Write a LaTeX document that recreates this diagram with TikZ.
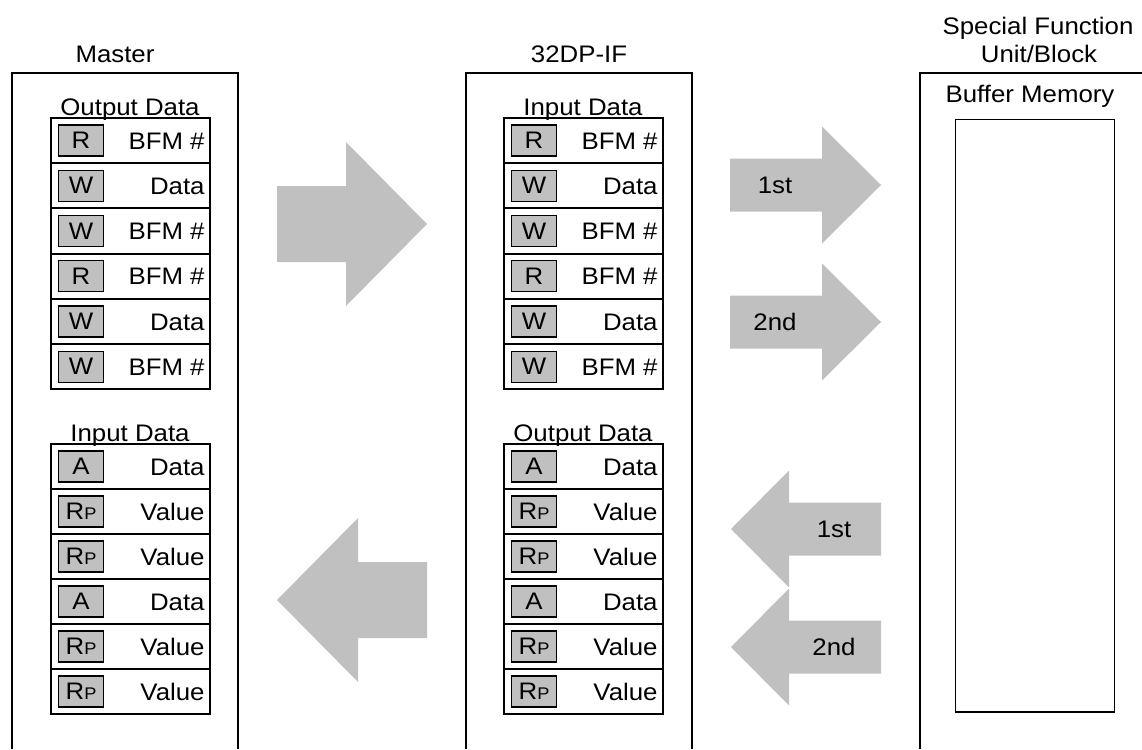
\documentclass[tikz,border=0pt]{standalone}
\usepackage{fontspec}
\setmainfont{Liberation Sans}[FakeStretch=1.08]
\usetikzlibrary{positioning}
\definecolor{silver}{RGB}{192,192,192}

\newcommand{\RP}{R{\fontsize{12}{12}\selectfont P}}

\begin{document}
\begin{tikzpicture}[x=0.025cm, y=-0.025cm,
    font=\fontsize{17}{20}\selectfont,
    frame/.style={line width=1.4pt},
    row/.style={draw, line width=1.3pt, minimum width=3.975cm, minimum height=1.13cm, inner sep=0pt, anchor=north west},
    tag/.style={draw, fill=silver, line width=0.9pt, minimum width=1.12cm, minimum height=0.775cm, inner sep=0pt},
    val/.style={inner sep=0pt, anchor=base east},
    title/.style={inner sep=0pt, anchor=base}]
    \useasboundingbox (0,0) rectangle (1142,749);

    % Outer frames, open at the bottom
    \draw[frame] (12,749) -- (12,73) -- (238,73) -- (238,749);
    \draw[frame] (466,749) -- (466,73) -- (692,73) -- (692,749);
    \draw[frame] (920,749) -- (920,73) -- (1142,73);
    \node[title] (master) at (115,63) {Master};
    \node[title] (dpif) at (579,63) {32DP-IF};
    \node[title] (sfu1) at (1038,35) {Special Function};
    \node[title] (sfu2) at (1039,63) {Unit/Block};

    % Request tables (Master output / 32DP-IF input)
    \foreach \c/\xl in {m/50, f/503} {
        \foreach \t/\v [count=\i] in {R/BFM \#, W/Data, W/BFM \#, R/BFM \#, W/Data, W/BFM \#} {
            \node[row] (\c req\i) at (\xl, {117+45.25*(\i-1)}) {};
            \node[tag, right=0.2cm of \c req\i.west] (\c req\i-t) {\t};
            \node[val] (\c req\i-v) at ([xshift=-0.15cm, yshift=-0.215cm]\c req\i.east) {\v};
        }
    }
    % Response tables (Master input / 32DP-IF output)
    \foreach \c/\xl in {m/50, f/503} {
        \foreach \t/\v [count=\i] in {A/Data, \RP/Value, \RP/Value, A/Data, \RP/Value, \RP/Value} {
            \node[row] (\c res\i) at (\xl, {443+45*(\i-1)}) {};
            \node[tag, right=0.2cm of \c res\i.west] (\c res\i-t) {\t};
            \node[val] (\c res\i-v) at ([xshift=-0.15cm, yshift=-0.215cm]\c res\i.east) {\v};
        }
    }
    \node[title] (mreqlbl) at (130,115) {Output Data};
    \node[title] (mreslbl) at (130,441) {Input Data};
    \node[title] (freqlbl) at (583,115) {Input Data};
    \node[title] (freslbl) at (583,441) {Output Data};

    % Buffer memory
    \node[title] (buflbl) at (1030,103) {Buffer Memory};
    \node[draw, line width=1pt, minimum width=3.975cm, minimum height=14.8cm, anchor=north west] (buf) at (955,119) {};

    % Big arrows between Master and 32DP-IF
    \fill[silver] (277,186) -- (346,186) -- (346,142) -- (427,224) -- (346,306) -- (346,262) -- (277,262) -- cycle;
    \fill[silver] (427,562) -- (358,562) -- (358,518) -- (277,600) -- (358,682) -- (358,638) -- (427,638) -- cycle;

    % Small arrows to and from the buffer memory
    \foreach \yc/\lbl in {185/1st, 322/2nd} {
        \fill[silver] (730,\yc-26.5) -- (822,\yc-26.5) -- (822,\yc-58.5) -- (881,\yc) -- (822,\yc+58.5) -- (822,\yc+26.5) -- (730,\yc+26.5) -- cycle;
        \node (to\lbl) at (775,\yc) {\lbl};
    }
    \foreach \yc/\lbl in {529/1st, 647/2nd} {
        \fill[silver] (881,\yc-26.5) -- (789,\yc-26.5) -- (789,\yc-58.5) -- (731,\yc) -- (789,\yc+58.5) -- (789,\yc+26.5) -- (881,\yc+26.5) -- cycle;
        \node (from\lbl) at (834,\yc) {\lbl};
    }
\end{tikzpicture}
\end{document}
